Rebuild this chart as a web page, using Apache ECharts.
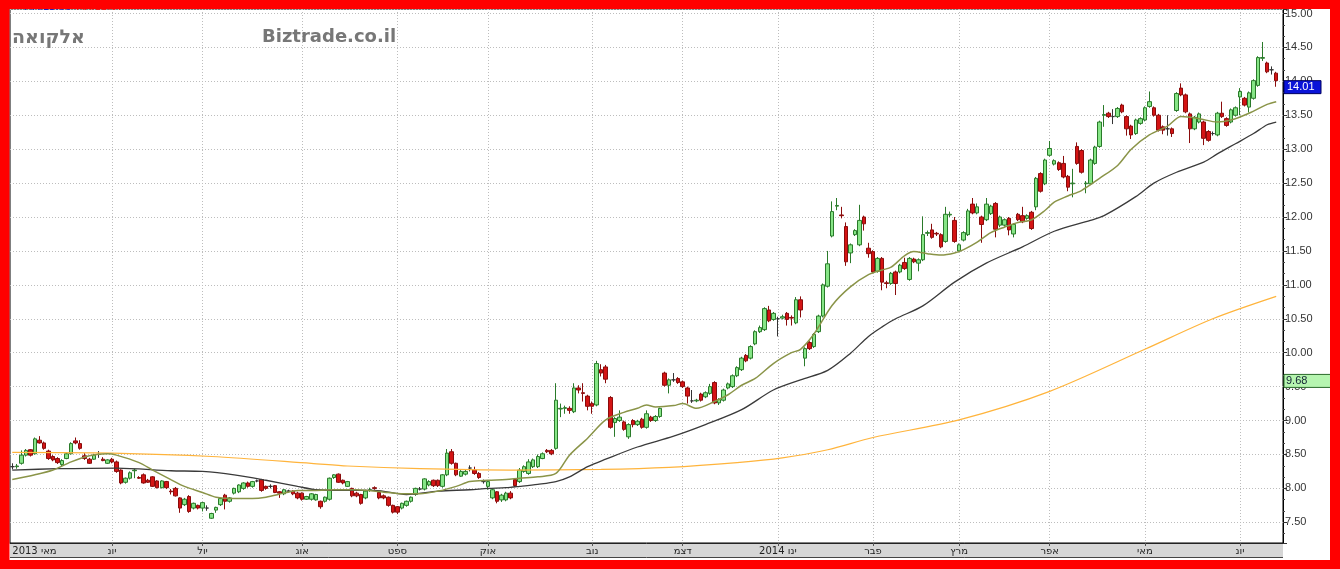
<!DOCTYPE html>
<html><head><meta charset="utf-8">
<script src="https://cdn.jsdelivr.net/npm/echarts@6/dist/echarts.min.js"></script>
<style>html,body{margin:0;padding:0;background:#fff;overflow:hidden}#c{width:1340px;height:569px}</style>
</head><body><div id="c"></div>
<script>
// ---- data ----
const openP = [
8.32,8.32,8.37,8.49,8.57,8.51,8.71,8.67,8.55,8.47,
8.44,8.35,8.44,8.51,8.70,8.66,8.48,8.43,8.43,8.50,
8.43,8.37,8.43,8.39,8.27,8.09,8.15,8.26,8.16,8.20,
8.12,8.17,8.11,8.01,8.10,7.96,8.00,7.86,7.76,7.88,
7.71,7.75,7.71,7.71,7.56,7.68,7.76,7.90,7.81,7.93,
7.95,8.00,8.08,8.03,8.11,8.13,8.03,8.03,8.04,7.95,
7.92,7.96,7.96,7.93,7.93,7.84,7.84,7.83,7.81,7.81,
7.84,8.16,8.21,8.12,8.03,8.00,7.93,7.91,7.86,7.97,
8.01,7.94,7.89,7.87,7.75,7.73,7.71,7.75,7.81,7.91,
7.99,7.99,8.05,8.12,8.12,8.03,8.20,8.54,8.37,8.18,
8.21,8.30,8.27,8.22,8.10,8.03,7.86,7.95,7.83,7.83,
7.93,8.13,8.10,8.25,8.22,8.32,8.32,8.44,8.56,8.56,
8.59,9.17,9.18,9.18,9.13,9.48,9.41,9.36,9.25,9.23,
9.75,9.79,9.34,8.97,9.00,8.98,8.76,9.00,8.94,9.02,
8.90,9.05,9.00,9.06,9.70,9.52,9.60,9.62,9.57,9.48,
9.29,9.29,9.39,9.35,9.40,9.56,9.26,9.30,9.48,9.50,
9.66,9.75,9.96,9.92,10.13,10.31,10.34,10.63,10.49,10.50,
10.51,10.58,10.52,10.44,10.78,9.92,10.15,10.09,10.31,10.54,
10.98,11.72,12.16,12.03,11.86,11.47,11.74,11.59,12.00,11.54,
11.49,11.20,11.39,11.03,11.02,11.19,11.19,11.33,11.08,11.38,
11.32,11.37,11.76,11.81,11.76,11.74,11.64,12.03,11.95,11.50,
11.66,11.74,12.19,12.06,12.00,11.96,12.05,12.20,11.88,11.88,
11.98,11.75,12.04,12.02,11.98,12.07,12.15,12.64,12.49,12.91,
12.78,12.80,12.79,12.60,12.49,13.04,12.98,12.49,12.49,12.79,
13.04,13.50,13.53,13.48,13.48,13.65,13.48,13.34,13.23,13.38,
13.43,13.63,13.61,13.50,13.33,13.30,13.30,13.57,13.90,13.80,
13.52,13.30,13.40,13.40,13.26,13.23,13.21,13.53,13.45,13.40,
13.50,13.77,13.75,13.62,13.75,13.94,14.34,14.27,14.17,14.12];
const closeP = [
8.32,8.33,8.49,8.56,8.49,8.73,8.67,8.59,8.44,8.42,
8.38,8.41,8.51,8.66,8.67,8.59,8.44,8.37,8.49,8.50,
8.41,8.42,8.39,8.25,8.08,8.15,8.23,8.27,8.15,8.08,
8.09,8.03,8.01,8.11,8.01,7.95,7.89,7.71,7.84,7.66,
7.78,7.71,7.79,7.71,7.63,7.72,7.85,7.81,7.86,8.00,
8.05,8.08,8.03,8.10,8.11,7.97,8.00,8.03,7.94,7.93,
7.98,7.96,7.92,7.86,7.84,7.88,7.92,7.91,7.73,7.87,
8.15,8.20,8.09,8.08,8.10,7.89,7.89,7.78,7.96,7.98,
8.00,7.86,7.86,7.75,7.65,7.65,7.78,7.81,7.87,8.00,
7.99,8.14,8.10,8.04,8.04,8.20,8.52,8.37,8.20,8.25,
8.25,8.30,8.22,8.16,8.10,8.10,7.98,7.81,7.90,7.93,
7.86,8.04,8.27,8.32,8.39,8.42,8.47,8.51,8.54,8.51,
9.30,9.18,9.19,9.15,9.48,9.45,9.40,9.21,9.21,9.84,
9.70,9.61,8.90,9.03,9.05,8.87,8.94,8.94,8.99,8.90,
9.10,9.00,9.06,9.18,9.52,9.60,9.60,9.56,9.50,9.36,
9.29,9.30,9.30,9.41,9.50,9.26,9.31,9.45,9.54,9.66,
9.78,9.92,9.88,10.09,10.31,10.37,10.65,10.47,10.58,10.50,
10.53,10.49,10.51,10.78,10.63,10.06,10.06,10.27,10.54,11.00,
11.31,12.08,12.17,12.02,11.34,11.59,11.80,11.95,11.90,11.46,
11.19,11.39,11.04,11.02,11.17,11.02,11.29,11.24,11.39,11.34,
11.37,11.74,11.77,11.70,11.75,11.56,12.04,12.04,11.64,11.59,
11.77,12.09,12.06,12.15,11.89,12.19,12.16,11.82,12.00,11.96,
11.81,11.89,11.96,11.93,12.02,11.83,12.57,12.38,12.84,13.01,
12.83,12.70,12.59,12.44,12.50,12.79,12.66,12.50,12.84,13.03,
13.40,13.51,13.48,13.48,13.60,13.55,13.30,13.21,13.43,13.45,
13.61,13.70,13.50,13.28,13.28,13.30,13.23,13.82,13.80,13.55,
13.30,13.47,13.52,13.16,13.13,13.23,13.53,13.48,13.35,13.58,
13.61,13.85,13.65,13.83,14.01,14.35,14.35,14.14,14.17,14.01];
const lowP = [
8.28,8.29,8.35,8.47,8.47,8.50,8.66,8.57,8.42,8.40,
8.36,8.33,8.43,8.50,8.65,8.57,8.42,8.36,8.42,8.45,
8.40,8.36,8.37,8.23,8.06,8.07,8.13,8.15,8.14,8.07,
8.08,8.02,8.00,8.00,7.99,7.91,7.88,7.64,7.74,7.64,
7.69,7.69,7.66,7.67,7.55,7.64,7.74,7.69,7.79,7.91,
7.93,7.98,8.01,8.01,8.09,7.95,7.98,8.00,7.93,7.86,
7.90,7.94,7.90,7.84,7.82,7.83,7.82,7.82,7.70,7.79,
7.82,8.14,8.08,8.06,8.02,7.87,7.87,7.76,7.84,7.95,
7.98,7.84,7.84,7.73,7.63,7.62,7.69,7.73,7.79,7.89,
7.97,7.97,8.03,8.02,8.02,8.01,8.18,8.35,8.18,8.17,
8.19,8.25,8.20,8.14,8.07,7.98,7.84,7.78,7.80,7.81,
7.84,8.02,8.08,8.23,8.20,8.30,8.30,8.43,8.52,8.49,
8.57,9.05,9.10,9.10,9.11,9.40,9.28,9.15,9.10,9.21,
9.65,9.55,8.88,8.76,8.98,8.85,8.73,8.90,8.92,8.88,
8.88,8.98,8.98,9.04,9.50,9.40,9.57,9.54,9.48,9.25,
9.26,9.27,9.28,9.33,9.38,9.24,9.23,9.28,9.46,9.48,
9.64,9.73,9.86,9.90,10.11,10.29,10.32,10.45,10.47,10.24,
10.49,10.40,10.40,10.42,10.52,9.80,10.04,10.07,10.29,10.52,
10.96,11.70,12.10,11.98,11.28,11.32,11.72,11.57,11.80,11.40,
11.17,11.18,10.92,10.95,11.00,10.85,11.17,11.22,11.06,11.32,
11.20,11.35,11.72,11.68,11.72,11.54,11.62,12.00,11.62,11.48,
11.64,11.72,12.04,12.04,11.62,11.94,12.03,11.70,11.85,11.86,
11.73,11.70,11.94,11.91,11.96,11.81,12.10,12.36,12.47,12.89,
12.76,12.68,12.57,12.38,12.29,12.77,12.64,12.35,12.47,12.77,
13.02,13.33,13.46,13.37,13.46,13.53,13.20,13.15,13.21,13.36,
13.41,13.61,13.48,13.26,13.22,13.20,13.18,13.55,13.78,13.53,
13.09,13.28,13.38,13.06,13.11,13.20,13.19,13.46,13.33,13.38,
13.48,13.50,13.63,13.54,13.73,13.92,14.30,14.12,14.10,13.92];
const highP = [
8.37,8.36,8.56,8.58,8.58,8.75,8.77,8.69,8.57,8.49,
8.46,8.43,8.53,8.68,8.75,8.71,8.52,8.45,8.51,8.55,
8.46,8.43,8.45,8.41,8.28,8.16,8.25,8.29,8.18,8.22,
8.14,8.18,8.12,8.12,8.11,7.99,8.02,7.87,7.86,7.90,
7.79,7.76,7.80,7.75,7.64,7.73,7.86,7.92,7.87,8.01,
8.06,8.09,8.10,8.11,8.13,8.14,8.04,8.06,8.05,7.96,
7.99,7.98,7.97,7.95,7.94,7.89,7.93,7.92,7.82,7.88,
8.16,8.21,8.22,8.13,8.11,8.01,7.95,7.92,7.98,8.01,
8.03,7.95,7.91,7.88,7.76,7.74,7.79,7.82,7.88,8.01,
8.02,8.15,8.12,8.13,8.13,8.21,8.58,8.58,8.38,8.27,
8.28,8.34,8.32,8.24,8.13,8.12,8.00,7.96,7.92,7.95,
7.96,8.14,8.30,8.34,8.43,8.44,8.50,8.53,8.58,8.58,
9.55,9.25,9.22,9.21,9.55,9.52,9.55,9.38,9.28,9.88,
9.83,9.82,9.36,9.05,9.15,9.00,8.96,9.02,9.01,9.04,
9.15,9.07,9.08,9.19,9.72,9.62,9.70,9.64,9.59,9.50,
9.45,9.32,9.41,9.43,9.54,9.58,9.33,9.47,9.56,9.68,
9.80,9.94,9.98,10.11,10.33,10.40,10.67,10.69,10.60,10.53,
10.56,10.60,10.55,10.82,10.83,10.08,10.17,10.29,10.56,11.02,
11.50,12.23,12.28,12.15,11.92,11.61,11.82,12.18,12.02,11.62,
11.51,11.41,11.41,11.06,11.19,11.21,11.31,11.40,11.41,11.40,
11.39,12.01,11.80,11.90,11.78,11.76,12.15,12.08,12.00,11.61,
11.79,12.12,12.28,12.20,12.02,12.28,12.18,12.22,12.02,11.98,
12.00,11.91,12.06,12.15,12.04,12.09,12.59,12.66,12.86,13.12,
12.85,12.82,12.90,12.62,12.71,13.10,13.00,12.53,12.86,13.05,
13.42,13.65,13.55,13.59,13.62,13.67,13.50,13.36,13.45,13.47,
13.63,13.85,13.63,13.52,13.35,13.50,13.32,13.84,13.97,13.82,
13.54,13.49,13.54,13.42,13.28,13.26,13.55,13.70,13.47,13.60,
13.63,13.90,13.77,13.85,14.03,14.37,14.58,14.29,14.22,14.14];

// moving averages read at sample positions: [day index, value]
const maShort = [[0,8.13],[5,8.20],[9,8.27],[13,8.39],[17,8.48],[21,8.51],[23,8.49],[28,8.38],[31,8.27],[35,8.13],[38,8.03],[42,7.94],[45,7.87],[49,7.85],[53,7.85],[56,7.87],[60,7.93],[63,7.97],[67,7.97],[71,7.98],[76,7.98],[83,7.94],[87,7.92],[90,7.92],[94,7.96],[98,8.03],[101,8.10],[105,8.12],[109,8.13],[112,8.15],[116,8.17],[120,8.22],[123,8.49],[127,8.74],[131,9.01],[135,9.12],[138,9.18],[140,9.23],[142,9.20],[146,9.22],[148,9.25],[151,9.18],[155,9.28],[158,9.38],[161,9.52],[164,9.62],[168,9.84],[172,10.00],[174,10.05],[177,10.28],[181,10.70],[185,10.97],[189,11.15],[192,11.22],[194,11.26],[197,11.43],[199,11.49],[202,11.46],[205,11.44],[208,11.47],[210,11.52],[213,11.63],[216,11.77],[219,11.85],[222,11.92],[225,11.96],[228,12.10],[230,12.22],[233,12.31],[236,12.39],[240,12.57],[244,12.76],[247,13.00],[251,13.21],[255,13.34],[258,13.48],[262,13.45],[266,13.40],[269,13.43],[273,13.53],[277,13.66],[279,13.70]];
const maMid = [[0,8.27],[10,8.29],[23,8.30],[35,8.26],[42,8.25],[49,8.20],[56,8.12],[63,8.03],[67,7.98],[74,7.97],[80,7.97],[87,7.91],[94,7.96],[101,7.98],[105,8.00],[109,8.01],[112,8.03],[116,8.06],[120,8.10],[123,8.17],[127,8.32],[131,8.43],[138,8.61],[146,8.77],[153,8.94],[161,9.16],[168,9.45],[174,9.60],[180,9.74],[185,9.99],[189,10.24],[192,10.38],[195,10.50],[201,10.69],[208,11.04],[215,11.32],[223,11.56],[230,11.79],[238,11.95],[241,12.02],[248,12.30],[252,12.50],[257,12.66],[263,12.81],[266,12.93],[270,13.08],[274,13.23],[277,13.36],[279,13.40]];
const maLong = [[0,8.53],[22,8.52],[44,8.47],[66,8.37],[74,8.33],[90,8.29],[110,8.27],[130,8.28],[145,8.31],[160,8.38],[170,8.45],[180,8.57],[190,8.75],[209,9.01],[229,9.43],[250,10.05],[265,10.50],[279,10.83]];

// month tick labels (index of first trading day of the month)
const monthStartIdx = [0,22,42,64,85,105,128,148,169,190,209,229,250,271];
const monthNames = ['מאי 2013','יונ','יול','אוג','ספט','אוק','נוב','דצמ','ינו 2014','פבר','מרץ','אפר','מאי','יונ'];
const slotCount = 281;
const lastPrice = 14.01;
const sideValue = 9.68;
const titleName = 'אלקואה';
const siteName = 'Biztrade.co.il';

// ---- chart ----
const categories = [];
for (let i = 0; i < slotCount; i++) categories.push(String(i));
const candleData = openP.map((o, i) => [o, closeP[i], lowP[i], highP[i]]);
const isMonth = (i) => monthStartIdx.indexOf(i) >= 0;

const chart = echarts.init(document.getElementById('c'), null, {renderer: 'canvas'});
const red = '#ff0000';
const option = {
  animation: false,
  backgroundColor: '#ffffff',
  grid: {left: 10, right: 57, top: 9, bottom: 26, show: true, borderColor: '#000', borderWidth: 1, backgroundColor: 'transparent'},
  xAxis: {
    type: 'category', data: categories, boundaryGap: true,
    axisLine: {show: true, lineStyle: {color: '#222', width: 1}},
    axisTick: {show: true, alignWithLabel: true, interval: (i) => isMonth(i) && i > 0, length: 3, lineStyle: {color: '#555'}},
    axisLabel: {
      interval: (i) => isMonth(i), margin: 3, fontSize: 10, color: '#222', fontFamily: 'DejaVu Sans',
      alignMinLabel: 'left',
      formatter: (v, i) => { const k = monthStartIdx.indexOf(Number(v)); return k >= 0 ? monthNames[k] : ''; }
    },
    splitLine: {show: true, alignWithLabel: true, interval: (i) => isMonth(i) && i > 0, lineStyle: {color: '#bdbdbd', type: [1, 2], width: 1}}
  },
  yAxis: {
    type: 'value', position: 'right', min: 7.195, max: 15.066, splitNumber: 16, scale: true,
    axisLine: {show: true, lineStyle: {color: '#000'}},
    axisTick: {show: true, length: 4, lineStyle: {color: '#333'}},
    minorTick: {show: true, splitNumber: 3, length: 2, lineStyle: {color: '#444'}},
    axisLabel: {showMinLabel: false, showMaxLabel: false, margin: 2, fontSize: 11, color: '#333', fontFamily: 'Liberation Sans', formatter: (v) => v.toFixed(2)},
    splitLine: {show: true, lineStyle: {color: '#bdbdbd', type: [1, 2], width: 1}}
  },
  series: [
    {type: 'candlestick', data: candleData, barWidth: 4,
     itemStyle: {color: '#86e586', color0: '#d41414', borderColor: '#2a7a2a', borderColor0: '#8a0c0c', borderColorDoji: '#333', borderWidth: 1}},
    {type: 'line', data: maLong, showSymbol: false, smooth: 0.3, lineStyle: {color: '#ffb43c', width: 1.2}, z: 3},
    {type: 'line', data: maMid, showSymbol: false, smooth: 0.3, lineStyle: {color: '#3a3a3a', width: 1.3}, z: 3},
    {type: 'line', data: maShort, showSymbol: false, smooth: 0.3, lineStyle: {color: '#8a9448', width: 1.5}, z: 3}
  ],
  graphic: [
    {id: 'band', type: 'rect', z: -5, silent: true, shape: {x: 10, y: 543.5, width: 1273, height: 14}, style: {fill: '#d6d6d6'}},
    {id: 'bandLine', type: 'line', z: 5, silent: true, shape: {x1: 10, y1: 557.5, x2: 1283, y2: 557.5}, style: {stroke: '#444', lineWidth: 1}},
    {id: 't1', type: 'text', z: 5, left: 12, top: 29, style: {text: titleName, font: 'bold 19px "DejaVu Sans"', fill: '#777'}},
    {id: 't2', type: 'text', z: 5, left: 262, top: 28, style: {text: siteName, font: 'bold 18px "DejaVu Sans"', fill: '#777'}},
    {id: 'ma1', type: 'text', z: 5, left: 24, top: 2, style: {text: 'MA:13.66', font: '10px "DejaVu Sans"', fill: '#2020c0'}},
    {id: 'ma2', type: 'text', z: 5, left: 76, top: 2, style: {text: 'MA:12.67', font: '10px "DejaVu Sans"', fill: '#e02020'}},
    {id: 'rTop', type: 'rect', z: 50, silent: true, shape: {x: 0, y: 0, width: 1340, height: 9}, style: {fill: red}},
    {id: 'rBot', type: 'rect', z: 50, silent: true, shape: {x: 0, y: 560, width: 1340, height: 9}, style: {fill: red}},
    {id: 'rLeft', type: 'rect', z: 50, silent: true, shape: {x: 0, y: 0, width: 9.5, height: 569}, style: {fill: red}},
    {id: 'rRight', type: 'rect', z: 50, silent: true, shape: {x: 1330, y: 0, width: 10, height: 569}, style: {fill: red}}
  ]
};
chart.setOption(option);

const yLast = chart.convertToPixel({yAxisIndex: 0}, lastPrice);
const ySide = chart.convertToPixel({yAxisIndex: 0}, sideValue);
chart.setOption({graphic: [
  {id: 'boxLast', type: 'rect', z: 20, shape: {x: 1284, y: yLast, width: 37, height: 13}, style: {fill: '#0a14d8', stroke: '#000060', lineWidth: 1}},
  {id: 'txtLast', type: 'text', z: 21, x: 1287, y: yLast + 1, style: {text: lastPrice.toFixed(2), font: '11px "Liberation Sans"', fill: '#fff'}},
  {id: 'boxSide', type: 'rect', z: 20, shape: {x: 1284, y: ySide, width: 48, height: 13}, style: {fill: '#b6f5b0', stroke: '#2a6a2a', lineWidth: 1}},
  {id: 'txtSide', type: 'text', z: 21, x: 1286, y: ySide + 1, style: {text: sideValue.toFixed(2), font: '11px "Liberation Sans"', fill: '#123'}}
]});
</script>
</body></html>
